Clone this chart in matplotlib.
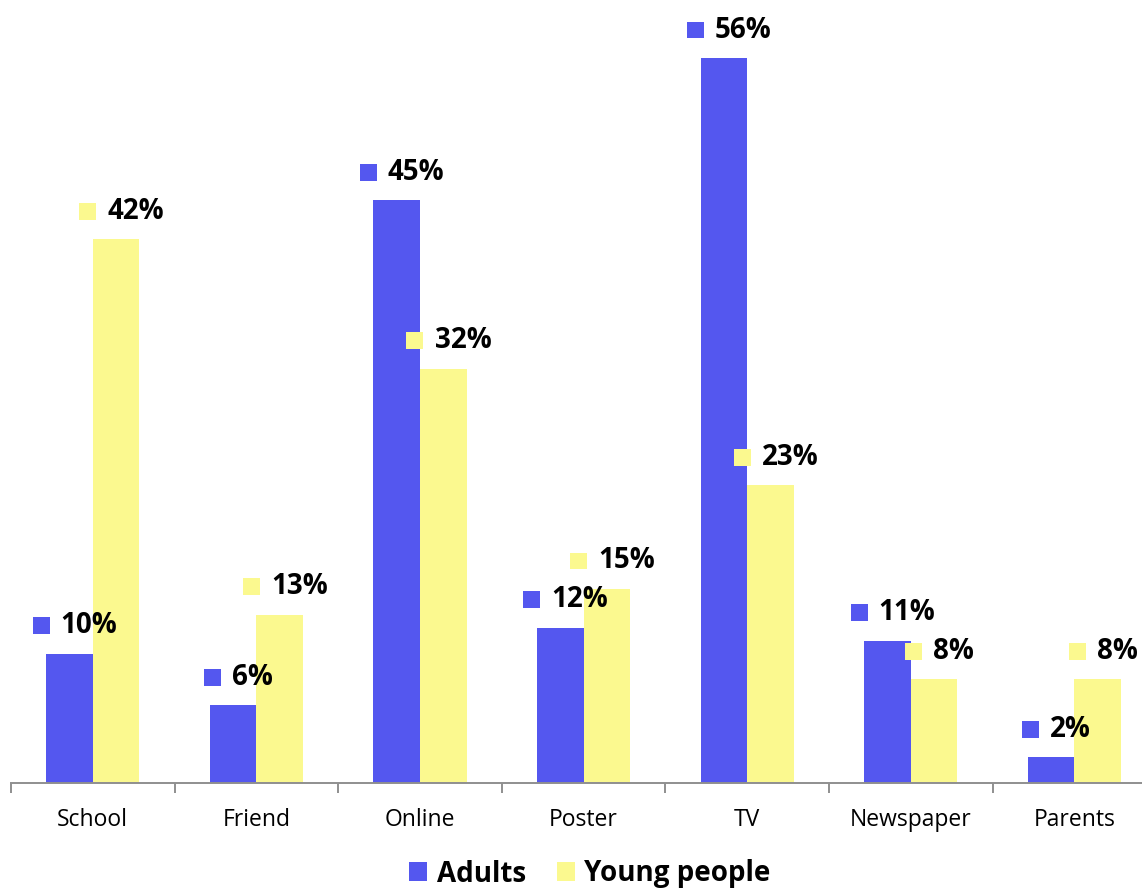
import matplotlib
matplotlib.use("Agg")
import matplotlib.pyplot as plt
from matplotlib.patches import Patch, Rectangle
from matplotlib.offsetbox import AnnotationBbox, DrawingArea, HPacker, TextArea
import numpy as np

plt.rcParams['font.family'] = ['Open Sans', 'DejaVu Sans']

# where people heard about it (% answering)
sources = ['School', 'Friend', 'Online', 'Poster', 'TV', 'Newspaper', 'Parents']
adults = [10, 6, 45, 12, 56, 11, 2]
young_people = [42, 13, 32, 15, 23, 8, 8]

BLUE = '#5457EF'
YELLOW = '#FBF98F'
GREY = '#8f8f8f'

fig = plt.figure(figsize=(11.42, 8.91), dpi=100)
ax = fig.add_axes([11 / 1142, 1 - 783 / 891, 7 * 163.6 / 1142, 783 / 891])

x = np.arange(len(sources))
w = 0.285
ax.bar(x - w / 2, adults, w, color=BLUE)
ax.bar(x + w / 2, young_people, w, color=YELLOW)

ax.set_xlim(-0.5, len(sources) - 0.5)
ax.set_ylim(0, 783 / 12.95)

for side in ['top', 'right', 'left']:
    ax.spines[side].set_visible(False)
ax.spines['bottom'].set_color(GREY)
ax.spines['bottom'].set_linewidth(1.4)
ax.set_yticks([])

ax.set_xticks(x)
ax.set_xticklabels(sources, fontsize=16.5)
ax.set_xticks(np.arange(len(sources) + 1) - 0.5, minor=True)
ax.tick_params(axis='x', which='major', length=0, pad=18)
ax.tick_params(axis='x', which='minor', length=7.5, width=1.4, color=GREY, direction='out')


def value_label(xpos, val, color):
    box = DrawingArea(12.2, 12.2, 0, 0)
    box.add_artist(Rectangle((0, 0), 12.2, 12.2, facecolor=color, edgecolor='none'))
    txt = TextArea(f'{val}%', textprops=dict(fontsize=20, fontweight='bold', color='black'))
    pack = HPacker(children=[box, txt], align='center', pad=0, sep=8)
    ab = AnnotationBbox(pack, (xpos, val), xycoords='data', xybox=(4, 20),
                        boxcoords='offset points', frameon=False, box_alignment=(0.5, 0.5),
                        annotation_clip=False)
    ax.add_artist(ab)


for i in range(len(sources)):
    value_label(x[i] - w / 2, adults[i], BLUE)
    value_label(x[i] + w / 2, young_people[i], YELLOW)

handles = [Patch(facecolor=BLUE, edgecolor='none', label='Adults'),
           Patch(facecolor=YELLOW, edgecolor='none', label='Young people')]
fig.legend(handles=handles, loc='center', bbox_to_anchor=(590 / 1142, 1 - 874 / 891),
           ncol=2, frameon=False, prop=dict(size=20, weight='bold'),
           handlelength=0.65, handleheight=0.65, handletextpad=0.35, columnspacing=1.1,
           borderpad=0)

fig.savefig('out.png', dpi=100)
